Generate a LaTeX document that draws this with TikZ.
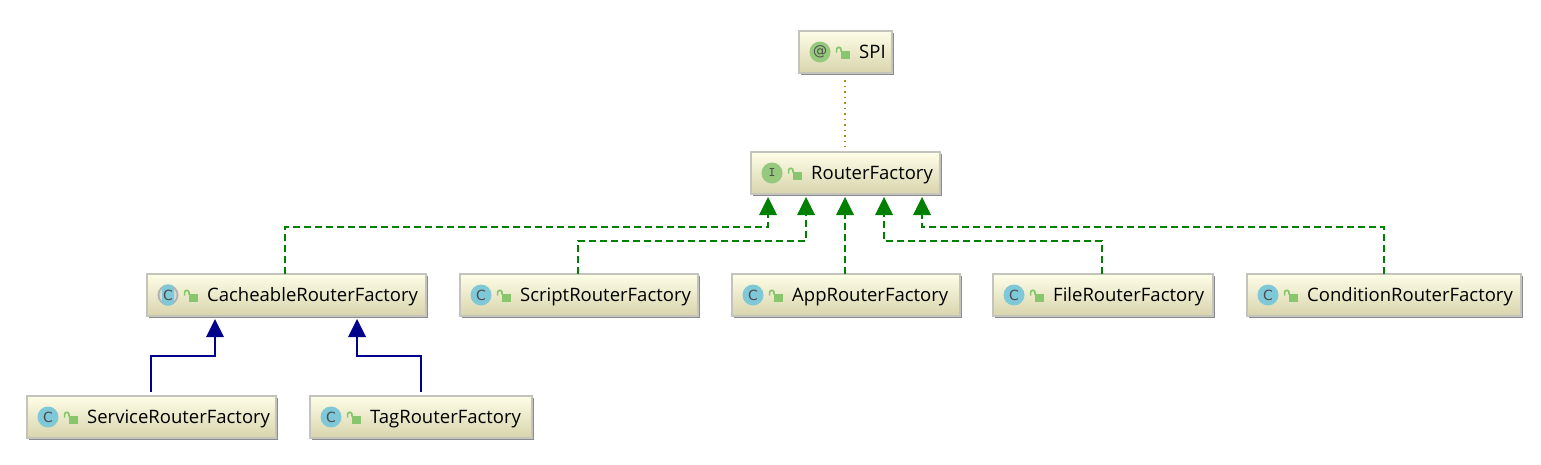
\documentclass[tikz,border=0pt]{standalone}
\usepackage{fontspec}
\setmainfont{Open Sans}
\newfontfamily\badgefont{DejaVu Sans}
\usetikzlibrary{arrows.meta, positioning, calc, shadows}
\definecolor{cTop}{RGB}{254,254,232}
\definecolor{cBottom}{RGB}{216,212,172}
\definecolor{cEdge}{RGB}{196,196,190}
\definecolor{cImpl}{RGB}{0,128,0}
\definecolor{cExt}{RGB}{0,0,139}
\definecolor{cDep}{RGB}{170,140,20}
\definecolor{cClass}{RGB}{127,200,216}
\definecolor{cIface}{RGB}{150,200,125}
\definecolor{cLock}{RGB}{135,198,108}
\tikzset{
	cls/.style     ={rectangle, draw=cEdge, line width=1.2pt, minimum height=42pt, outer sep=0pt, inner sep=0pt, top color=cTop, bottom color=cBottom, general shadow={shadow xshift=1.5pt, shadow yshift=-1.5pt, fill=black!45}},
	clsname/.style ={anchor=base west, font=\fontsize{18.5pt}{20pt}\selectfont, inner sep=0pt, text=black},
	badge/.style   ={circle, minimum size=21pt, inner sep=0pt, font=\fontsize{14pt}{14pt}\badgefont, text=black!70},
	impl/.style    ={-{Triangle[length=18pt, width=18pt, line width=0pt]}, cImpl, line width=1.6pt, dash pattern=on 7pt off 4pt},
	extends/.style ={-{Triangle[length=18pt, width=18pt, line width=0pt]}, cExt, line width=1.6pt, shorten <=4pt},
	dep/.style     ={cDep, line width=1.5pt, dash pattern=on 1.5pt off 4pt},
	lockicon/.pic  ={
		\fill[cLock] (-3pt,-6.5pt) rectangle (6pt,1pt);
		\draw[cLock, line width=1.7pt] (-2.5pt,0.5pt) -- (-2.5pt,2.5pt) arc (0:180:2.2pt) -- ++(0,-3pt);
	},
}
\begin{document}
\begin{tikzpicture}[x=1pt, y=1pt]
	\useasboundingbox (0,0) rectangle (1541,-464);
	% classes
	\node[cls, minimum width=189pt] (router) at (845.5,-173) {};
	\node[cls, minimum width=93pt, above=79pt of router] (spi) {};
	\node[cls, minimum width=279pt] (cacheable) at (286.5,-295) {};
	\node[cls, minimum width=238pt, right=34pt of cacheable] (script) {};
	\node[cls, minimum width=228pt, right=34pt of script] (app) {};
	\node[cls, minimum width=220pt, right=33pt of app] (file) {};
	\node[cls, minimum width=274pt, right=34pt of file] (condition) {};
	\node[cls, minimum width=249pt] (service) at (151.5,-417) {};
	\node[cls, minimum width=222pt, right=34pt of service] (tag) {};
	% names and lock icons
	\foreach \b/\t in {spi/SPI, router/RouterFactory, cacheable/CacheableRouterFactory, script/ScriptRouterFactory, app/AppRouterFactory, file/FileRouterFactory, condition/ConditionRouterFactory, service/ServiceRouterFactory, tag/TagRouterFactory}{
		\node[clsname] (\b-name) at ($(\b.west)+(60,-6.5)$) {\t};
		\pic at ($(\b.west)+(44.5,0)$) {lockicon};
	}
	% badges
	\node[badge, fill=cIface] (spi-badge) at ($(spi.west)+(21,0)$) {@};
	\node[badge, fill=cIface, font=\fontsize{13pt}{13pt}\ttfamily\bfseries] (router-badge) at ($(router.west)+(21,0)$) {I};
	\fill[black!30] ($(cacheable.west)+(21,0)$) circle (10.5pt);
	\fill[white!85!black] ($(cacheable.west)+(21,0)$) circle (8.5pt);
	\node[badge, fill=cClass, rectangle, rounded corners=4pt, minimum size=0pt, minimum width=12pt, minimum height=21pt] (cacheable-badge) at ($(cacheable.west)+(21,0)$) {C};
	\foreach \b in {script, app, file, condition, service, tag}
		\node[badge, fill=cClass] (\b-badge) at ($(\b.west)+(21,0)$) {C};
	% arrow ends below the parents
	\coordinate (tipA) at ($(router.south)+(-77.5,-3)$);
	\coordinate (tipB) at ($(router.south)+(-39.5,-3)$);
	\coordinate (tipC) at ($(router.south)+(-0.5,-3)$);
	\coordinate (tipD) at ($(router.south)+(38.5,-3)$);
	\coordinate (tipE) at ($(router.south)+(76.5,-3)$);
	\coordinate (tipF) at ($(cacheable.south)+(-71.5,-3)$);
	\coordinate (tipG) at ($(cacheable.south)+(70.5,-3)$);
	% connectors
	\draw[dep] ($(spi.south -| tipC)+(0,-7)$) -- ($(router.north -| tipC)+(0,5)$);
	\draw[impl] ([xshift=-1.5pt]cacheable.north) -- ++(0,47) -| (tipA);
	\draw[impl] ([xshift=-1pt]script.north) -- ++(0,33) -| (tipB);
	\draw[impl] (tipC |- app.north) -- (tipC);
	\draw[impl] ([xshift=-1pt]file.north) -- ++(0,33) -| (tipD);
	\draw[impl] (condition.north) -- ++(0,47) -| (tipE);
	\draw[extends] ([xshift=-0.5pt]service.north) -- ++(0,40) -| (tipF);
	\draw[extends] (tag.north) -- ++(0,40) -| (tipG);
\end{tikzpicture}
\end{document}
